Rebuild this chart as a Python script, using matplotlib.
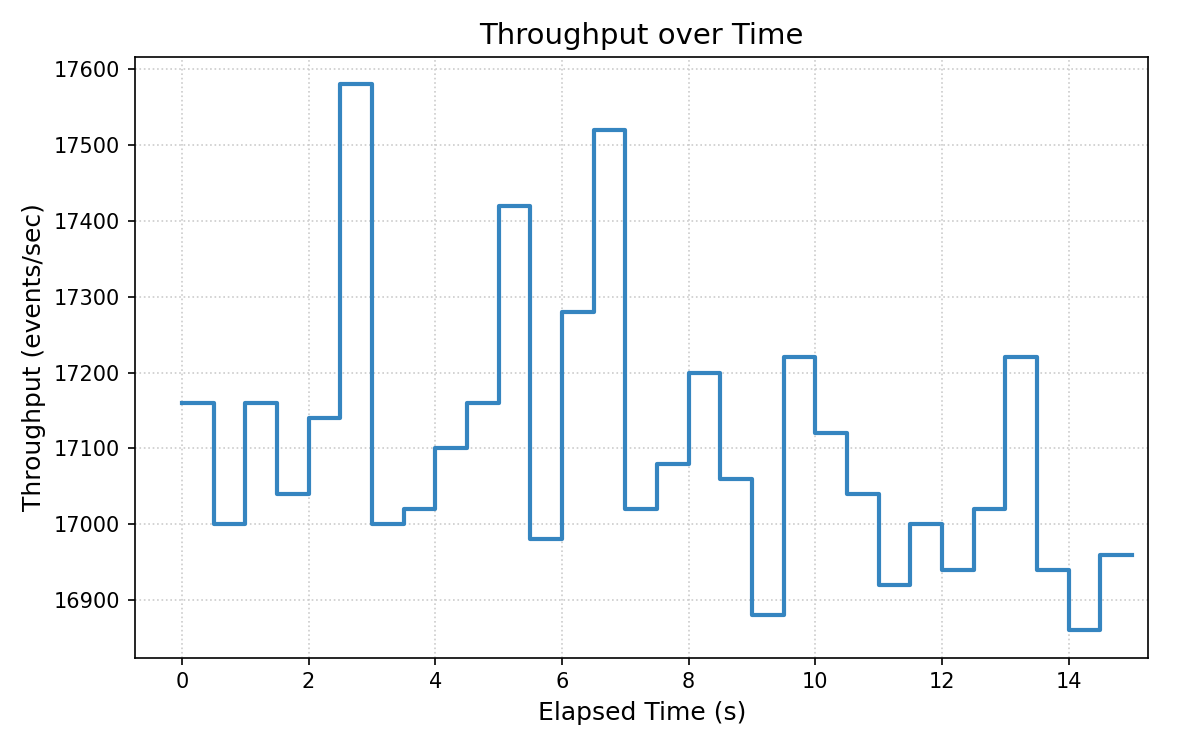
import matplotlib
matplotlib.use("Agg")
import matplotlib.pyplot as plt
import numpy as np

time_s = [0, 0.5, 1, 1.5, 2, 2.5, 3, 3.5, 4, 4.5, 5, 5.5, 6, 6.5, 7, 7.5,
          8, 8.5, 9, 9.5, 10, 10.5, 11, 11.5, 12, 12.5, 13, 13.5, 14, 14.5, 15]
throughput = [17160, 17000, 17160, 17040, 17140, 17580, 17000, 17020, 17100, 17160,
              17420, 16980, 17280, 17520, 17020, 17080, 17200, 17060, 16880, 17220,
              17120, 17040, 16920, 17000, 16940, 17020, 17220, 16940, 16860, 16960, 16960]

fig, ax = plt.subplots(figsize=(8, 5), dpi=150)
ax.step(time_s, throughput, where="post", color="#3585C0", linewidth=2)
ax.set_xlim(-0.74, 15.26)
ax.set_title("Throughput over Time", fontsize=14)
ax.set_xlabel("Elapsed Time (s)", fontsize=12)
ax.set_ylabel("Throughput (events/sec)", fontsize=12)
ax.grid(True, linestyle=":", color="#cccccc", linewidth=0.8)
fig.subplots_adjust(left=0.1125, right=0.957, top=0.924, bottom=0.123)
fig.savefig("out.png", dpi=150)
